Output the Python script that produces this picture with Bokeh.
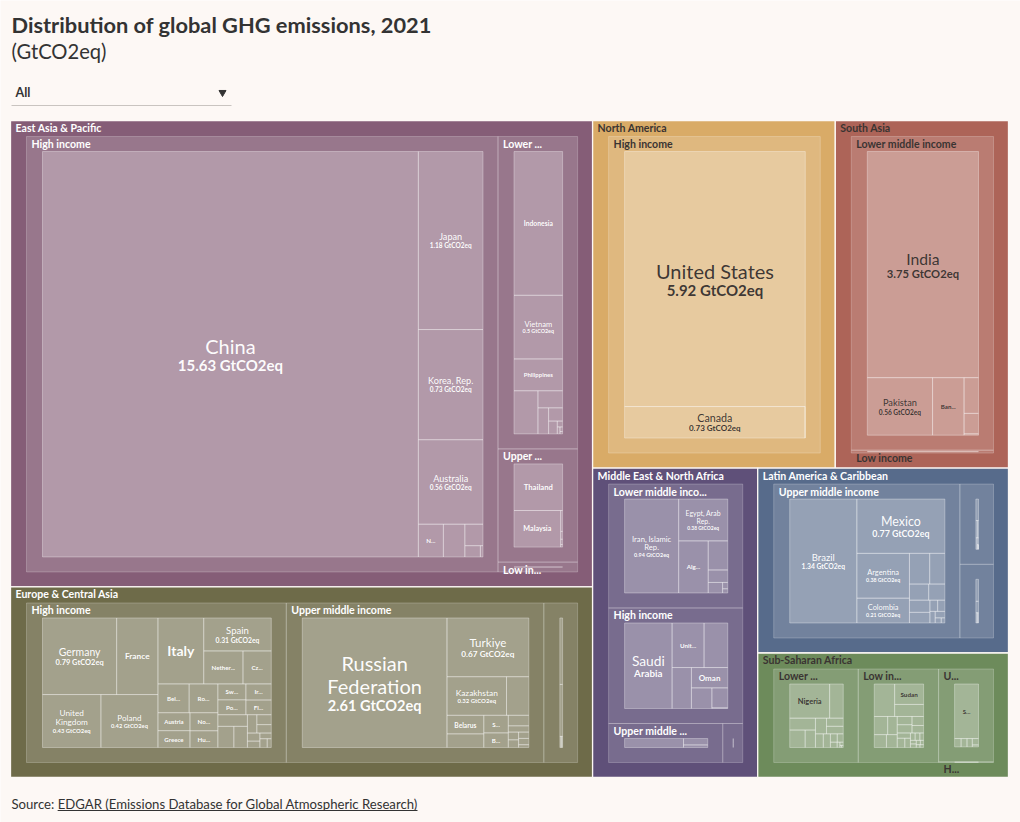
import os
import glob
from bokeh.plotting import figure
from bokeh.models import ColumnDataSource, Range1d
from bokeh.core.properties import value
from bokeh.embed import file_html
from bokeh.resources import INLINE

# ------------------------------------------------------------------ data
TITLE = "Distribution of global GHG emissions, 2021"
SUBTITLE = "(GtCO2eq)"
UNIT = "GtCO2eq"
FILTER_LABEL = "All"
SOURCE_PREFIX = "Source: "
SOURCE_LINK = "EDGAR (Emissions Database for Global Atmospheric Research)"

region_codes = ["EAP", "ECA", "NA", "SA", "MENA", "LAC", "SSA"]
region_names = ["East Asia & Pacific", "Europe & Central Asia", "North America", "South Asia",
                "Middle East & North Africa", "Latin America & Caribbean", "Sub-Saharan Africa"]
income_codes = ["H", "UM", "LM", "L"]
income_names = ["High income", "Upper middle income", "Lower middle income", "Low income"]

# East Asia & Pacific
eap_country = ["China", "Japan", "Korea, Rep.", "Australia", "New Zealand", "Singapore",
               "Hong Kong SAR, China", "Brunei Darussalam", "Macao SAR, China",
               "Indonesia", "Vietnam", "Philippines", "Myanmar", "Mongolia", "Cambodia", "Lao PDR",
               "Papua New Guinea", "Timor-Leste", "Solomon Islands", "Vanuatu", "Kiribati",
               "Thailand", "Malaysia", "Fiji", "Samoa", "Tonga", "Marshall Islands",
               "Korea, Dem. People's Rep."]
eap_income = ["H", "H", "H", "H", "H", "H",
              "H", "H", "H",
              "LM", "LM", "LM", "LM", "LM", "LM", "LM",
              "LM", "LM", "LM", "LM", "LM",
              "UM", "UM", "UM", "UM", "UM", "UM",
              "L"]
eap_ghg = [15.63, 1.18, 0.73, 0.56, 0.084, 0.072,
           0.04, 0.018, 0.003,
           1.13, 0.50, 0.25, 0.167, 0.068, 0.045, 0.03,
           0.018, 0.005, 0.003, 0.002, 0.001,
           0.45, 0.34, 0.008, 0.003, 0.002, 0.001,
           0.07]

# Europe & Central Asia
eca_country = ["Germany", "France", "United Kingdom", "Poland", "Italy", "Spain", "Netherlands",
               "Czechia", "Belgium", "Romania", "Austria", "Greece", "Norway", "Hungary", "Sweden",
               "Portugal", "Ireland", "Finland", "Denmark", "Switzerland", "Slovak Republic",
               "Croatia", "Lithuania", "Slovenia", "Estonia", "Latvia", "Luxembourg", "Cyprus", "Iceland",
               "Russian Federation", "Turkiye", "Kazakhstan", "Turkmenistan", "Belarus", "Azerbaijan",
               "Serbia", "Bulgaria", "Bosnia and Herzegovina", "Georgia", "Armenia", "North Macedonia",
               "Albania", "Kosovo", "Montenegro",
               "Ukraine", "Uzbekistan", "Kyrgyz Republic", "Tajikistan", "Moldova"]
eca_income = ["H", "H", "H", "H", "H", "H", "H",
              "H", "H", "H", "H", "H", "H", "H", "H",
              "H", "H", "H", "H", "H", "H",
              "H", "H", "H", "H", "H", "H", "H", "H",
              "UM", "UM", "UM", "UM", "UM", "UM",
              "UM", "UM", "UM", "UM", "UM", "UM",
              "UM", "UM", "UM",
              "LM", "LM", "LM", "LM", "LM"]
eca_ghg = [0.79, 0.44, 0.43, 0.42, 0.42, 0.31, 0.18,
           0.13, 0.125, 0.115, 0.08, 0.075, 0.07, 0.065, 0.062,
           0.058, 0.057, 0.052, 0.047, 0.048, 0.04,
           0.024, 0.02, 0.017, 0.014, 0.011, 0.009, 0.009, 0.005,
           2.61, 0.67, 0.32, 0.12, 0.095, 0.07,
           0.06, 0.05, 0.03, 0.018, 0.011, 0.011,
           0.009, 0.009, 0.004,
           0.275, 0.215, 0.018, 0.016, 0.012]

# North America
na_country = ["United States", "Canada", "Bermuda"]
na_income = ["H", "H", "H"]
na_ghg = [5.92, 0.73, 0.001]

# South Asia
sa_country = ["India", "Pakistan", "Bangladesh", "Nepal", "Sri Lanka", "Bhutan", "Afghanistan"]
sa_income = ["LM", "LM", "LM", "LM", "LM", "LM", "L"]
sa_ghg = [3.75, 0.56, 0.27, 0.077, 0.044, 0.003, 0.043]

# Middle East & North Africa
mena_country = ["Iran, Islamic Rep.", "Egypt, Arab Rep.", "Algeria", "Morocco", "Tunisia", "Lebanon",
                "West Bank and Gaza", "Djibouti",
                "Saudi Arabia", "United Arab Emirates", "Qatar", "Kuwait", "Oman", "Israel", "Bahrain", "Malta",
                "Iraq", "Libya", "Jordan",
                "Syrian Arab Republic", "Yemen, Rep."]
mena_income = ["LM", "LM", "LM", "LM", "LM", "LM",
               "LM", "LM",
               "H", "H", "H", "H", "H", "H", "H", "H",
               "UM", "UM", "UM",
               "L", "L"]
mena_ghg = [0.94, 0.38, 0.285, 0.105, 0.045, 0.028,
            0.006, 0.004,
            0.77, 0.27, 0.20, 0.15, 0.14, 0.08, 0.06, 0.002,
            0.34, 0.10, 0.04,
            0.05, 0.034]

# Latin America & Caribbean
lac_country = ["Brazil", "Mexico", "Argentina", "Colombia", "Peru", "Ecuador", "Paraguay", "Cuba",
               "Dominican Republic", "Guatemala", "Costa Rica", "El Salvador", "Jamaica", "Guyana",
               "Suriname", "Belize",
               "Chile", "Trinidad and Tobago", "Uruguay", "Panama", "Puerto Rico", "Bahamas, The",
               "Barbados", "Antigua and Barbuda",
               "Venezuela, RB", "Bolivia", "Honduras", "Nicaragua", "Haiti"]
lac_income = ["UM", "UM", "UM", "UM", "UM", "UM", "UM", "UM",
              "UM", "UM", "UM", "UM", "UM", "UM",
              "UM", "UM",
              "H", "H", "H", "H", "H", "H",
              "H", "H",
              "LM", "LM", "LM", "LM", "LM"]
lac_ghg = [1.34, 0.77, 0.38, 0.21, 0.10, 0.075, 0.05, 0.042,
           0.04, 0.035, 0.014, 0.013, 0.01, 0.01,
           0.005, 0.003,
           0.125, 0.055, 0.045, 0.03, 0.022, 0.008,
           0.005, 0.002,
           0.135, 0.07, 0.027, 0.022, 0.014]

# Sub-Saharan Africa
ssa_country = ["Nigeria", "Tanzania", "Kenya", "Angola", "Ghana", "Cameroon", "Cote d'Ivoire", "Zambia",
               "Zimbabwe", "Senegal", "Benin", "Mauritania", "Congo, Rep.", "Lesotho", "Eswatini",
               "Cabo Verde", "Comoros",
               "Ethiopia", "Sudan", "Congo, Dem. Rep.", "Uganda", "Mozambique", "Madagascar", "Mali",
               "Burkina Faso", "Niger", "Chad", "Somalia", "South Sudan", "Guinea", "Malawi", "Rwanda",
               "Central African Republic", "Togo", "Sierra Leone", "Eritrea", "Liberia", "Burundi",
               "Gambia, The", "Guinea-Bissau",
               "South Africa", "Gabon", "Botswana", "Namibia", "Equatorial Guinea", "Mauritius",
               "Seychelles"]
ssa_income = ["LM", "LM", "LM", "LM", "LM", "LM", "LM", "LM",
              "LM", "LM", "LM", "LM", "LM", "LM", "LM",
              "LM", "LM",
              "L", "L", "L", "L", "L", "L", "L",
              "L", "L", "L", "L", "L", "L", "L", "L",
              "L", "L", "L", "L", "L", "L",
              "L", "L",
              "UM", "UM", "UM", "UM", "UM", "UM",
              "H"]
ssa_ghg = [0.38, 0.13, 0.085, 0.075, 0.05, 0.048, 0.038, 0.035,
           0.03, 0.027, 0.016, 0.014, 0.01, 0.004, 0.003,
           0.001, 0.001,
           0.19, 0.17, 0.10, 0.07, 0.05, 0.045, 0.04,
           0.035, 0.035, 0.03, 0.025, 0.02, 0.02, 0.015, 0.01,
           0.01, 0.008, 0.006, 0.006, 0.005, 0.004,
           0.003, 0.003,
           0.53, 0.022, 0.02, 0.018, 0.016, 0.005,
           0.004]

region_tables = {
    "EAP": (eap_country, eap_income, eap_ghg),
    "ECA": (eca_country, eca_income, eca_ghg),
    "NA": (na_country, na_income, na_ghg),
    "SA": (sa_country, sa_income, sa_ghg),
    "MENA": (mena_country, mena_income, mena_ghg),
    "LAC": (lac_country, lac_income, lac_ghg),
    "SSA": (ssa_country, ssa_income, ssa_ghg),
}

# ------------------------------------------------------------------ style
BG = "#fdf8f5"
FONT = "Lato"
W, H = 1020, 822
OX, OY = 0, 0                       # figure sits at the page origin
TREEMAP_BOX = (10, 120, 1008, 777)  # page pixels
REGION_COLORS = {"EAP": "#855d77", "ECA": "#6e6b49", "NA": "#d9ab67", "SA": "#ad6458",
                 "MENA": "#5f5079", "LAC": "#576b8b", "SSA": "#6d8b5b"}
DARK_TEXT = {"NA", "SA", "SSA"}
DARK = "#3a3432"
LIGHT = "#ffffff"
PAD = {0: (0, 0, 0, 0), 1: (16, 16, 15, 15), 2: (16, 15, 15, 15)}  # left, top, right, bottom


# ------------------------------------------------------------------ text metrics
def _font_path(fname):
    for base in ("/usr/share/fonts", "/usr/local/share/fonts",
                 os.path.expanduser("~/.fonts"), os.path.expanduser("~/.local/share/fonts")):
        hits = glob.glob(os.path.join(base, "**", fname), recursive=True)
        if hits:
            return hits[0]
    return None


FR = FB = None
try:
    from PIL import ImageFont
    _r = _font_path("Lato-Regular.ttf")
    _b = _font_path("Lato-Bold.ttf")
    if _r and _b:
        FR = ImageFont.truetype(_r, 100)
        FB = ImageFont.truetype(_b, 100)
except Exception:
    FR = FB = None


def _approx(ch):
    if ch in "il.,:;'|!I":
        return 0.25
    if ch in "ftrj()-":
        return 0.33
    if ch == " ":
        return 0.26
    if ch in "mw":
        return 0.82
    if ch in "MW":
        return 0.9
    if ch.isupper():
        return 0.66
    if ch.isdigit():
        return 0.58
    return 0.52


def tw(text, fs, bold=False):
    f = FB if bold else FR
    if f is not None:
        return f.getlength(text) * fs / 100.0
    return sum(_approx(c) for c in text) * fs * (1.04 if bold else 1.0)


# ------------------------------------------------------------------ hierarchy
inc_name = dict(zip(income_codes, income_names))
reg_name = dict(zip(region_codes, region_names))

root = {"name": "World", "children": [], "code": None}
for rc in region_codes:
    names, incs, vals = region_tables[rc]
    assert len(names) == len(incs) == len(vals), rc
    groups = {}
    for n, ic, v in zip(names, incs, vals):
        groups.setdefault(ic, []).append({"name": n, "value": v, "children": None, "code": rc})
    gnodes = []
    for ic, leaves in groups.items():
        leaves = sorted(leaves, key=lambda d: -d["value"])
        gnodes.append({"name": inc_name[ic], "value": sum(d["value"] for d in leaves),
                       "children": leaves, "code": rc})
    gnodes = sorted(gnodes, key=lambda d: -d["value"])
    root["children"].append({"name": reg_name[rc], "value": sum(g["value"] for g in gnodes),
                             "children": gnodes, "code": rc})
root["children"] = sorted(root["children"], key=lambda d: -d["value"])
root["value"] = sum(r["value"] for r in root["children"])


def binary(nodes, x0, y0, x1, y1, key):
    sums = [0.0]
    for nd in nodes:
        sums.append(sums[-1] + nd["value"])

    def part(i, j, val, x0, y0, x1, y1):
        if i >= j - 1:
            nodes[i][key] = (x0, y0, x1, y1)
            return
        off = sums[i]
        target = val / 2 + off
        k, hi = i + 1, j - 1
        while k < hi:
            mid = (k + hi) >> 1
            if sums[mid] < target:
                k = mid + 1
            else:
                hi = mid
        if (target - sums[k - 1]) < (sums[k] - target) and i + 1 < k:
            k -= 1
        vl = sums[k] - off
        vr = val - vl
        if (x1 - x0) > (y1 - y0):
            xk = (x0 * vr + x1 * vl) / val if val else x1
            part(i, k, vl, x0, y0, xk, y1)
            part(k, j, vr, xk, y0, x1, y1)
        else:
            yk = (y0 * vr + y1 * vl) / val if val else y1
            part(i, k, vl, x0, y0, x1, yk)
            part(k, j, vr, x0, yk, x1, y1)

    part(0, len(nodes), sums[-1], x0, y0, x1, y1)


def raw_layout(node):
    # unpadded binary partition decides the structure of every level
    if node.get("children"):
        binary(node["children"], *node["raw"], key="raw")
        for c in node["children"]:
            raw_layout(c)


def place(node, depth):
    # map the unpadded structure into each node's padded inner box
    if not node.get("children"):
        return
    x0, y0, x1, y1 = node["box"]
    pl, pt, pr, pb = PAD[depth]
    ix0, iy0, ix1, iy1 = x0 + pl, y0 + pt, x1 - pr, y1 - pb
    if ix1 < ix0:
        ix0 = ix1 = (ix0 + ix1) / 2
    if iy1 < iy0:
        iy0 = iy1 = (iy0 + iy1) / 2
    R = node["raw"]
    rw, rh = R[2] - R[0], R[3] - R[1]
    for c in node["children"]:
        r = c["raw"]
        fx = lambda v: ix0 + ((v - R[0]) / rw * (ix1 - ix0) if rw else 0)
        fy = lambda v: iy0 + ((v - R[1]) / rh * (iy1 - iy0) if rh else 0)
        c["box"] = (fx(r[0]), fy(r[1]), fx(r[2]), fy(r[3]))
        place(c, depth + 1)


root["raw"] = TREEMAP_BOX
root["box"] = TREEMAP_BOX
raw_layout(root)
place(root, 0)

# ------------------------------------------------------------------ figure
p = figure(width=W, height=H, x_range=Range1d(0, W), y_range=Range1d(H, 0),
           output_backend="svg", toolbar_location=None, min_border=0,
           x_axis_location=None, y_axis_location=None,
           background_fill_color=BG, border_fill_color=BG, outline_line_color=None)
p.grid.visible = False


def quads(nodes):
    d = {"l": [], "r": [], "t": [], "b": [], "c": []}
    for nd in nodes:
        x0, y0, x1, y1 = nd["box"]
        d["l"].append(x0 - OX)
        d["r"].append(x1 - OX)
        d["t"].append(y0 - OY)
        d["b"].append(y1 - OY)
        d["c"].append(REGION_COLORS[nd["code"]])
    return ColumnDataSource(d)


regions = root["children"]
groups = [g for r in regions for g in r["children"]]
leaves = [c for g in groups for c in g["children"]]

p.quad(left="l", right="r", top="t", bottom="b", source=quads(regions),
       fill_color="c", line_color=BG, line_width=1.3)
p.quad(left="l", right="r", top="t", bottom="b", source=quads(groups),
       fill_color="white", fill_alpha=0.16, line_color="white", line_alpha=0.22, line_width=1)
p.quad(left="l", right="r", top="t", bottom="b", source=quads(leaves),
       fill_color="white", fill_alpha=0.25, line_color="white", line_alpha=0.4, line_width=0.8)

# ------------------------------------------------------------------ labels
left_lab = {"x": [], "y": [], "text": [], "fs": [], "st": [], "col": []}
ctr_lab = {"x": [], "y": [], "text": [], "fs": [], "st": [], "col": []}


def add(d, x, y, text, fs, bold, col):
    d["x"].append(x - OX)
    d["y"].append(y - OY)
    d["text"].append(text)
    d["fs"].append(f"{fs:.2f}px")
    d["st"].append("bold" if bold else "normal")
    d["col"].append(col)


LAB_FS = max(9.0, min(12.0, 86.0 / tw("East Asia & Pacific", 1, True)))


def truncate(name, fs, bold, avail):
    if tw(name, fs, bold) <= avail:
        return name
    for n in range(len(name) - 1, 0, -1):
        t = name[:n] + "..."
        if tw(t, fs, bold) <= avail:
            return t
    return None


for nd in regions + groups:
    x0, y0, x1, y1 = nd["box"]
    txt = truncate(nd["name"], LAB_FS, True, (x1 - x0) - 38)
    if txt:
        col = DARK if nd["code"] in DARK_TEXT else LIGHT
        add(left_lab, x0 + 5, y0 + 7.5, txt, LAB_FS, True, col)


def fmt_val(v):
    s = f"{v:.2f}"
    if s.endswith("0"):
        s = s[:-1]
    return f"{s} {UNIT}"


def wrap(text, fs, bold, maxw):
    words = text.split(" ")
    lines, cur = [], ""
    for wd in words:
        t = (cur + " " + wd) if cur else wd
        if not cur or tw(t, fs, bold) <= maxw:
            cur = t
        else:
            lines.append(cur)
            cur = wd
    lines.append(cur)
    return lines


TRUNC_FS = 6.2
MIN_VALUE_FS = 4.95


def leaf_lines(name, val, w, h):
    vs = fmt_val(val)
    vfs = min(15.0, 0.65 * w / tw(vs, 1, True))
    if vfs >= MIN_VALUE_FS:
        nfs = min(20.0, 1.4 * vfs)
        lines = wrap(name, nfs, False, 0.85 * w)
        mlw = max(tw(l, nfs, False) for l in lines)
        if mlw > 0.9 * w:
            nfs *= 0.9 * w / mlw
        total = len(lines) * nfs * 1.12 + vfs * 1.25
        if total > 0.7 * h:
            s = 0.7 * h / total
            nfs *= s
            vfs *= s
        if vfs >= MIN_VALUE_FS:
            return [(l, nfs, False) for l in lines] + [(vs, vfs, True)]
    # name only, bold
    fs = min(14.0, 0.6 * w / tw(name, 1, True), 0.5 * h)
    if fs >= 5.9:
        return [(name, fs, True)]
    words = name.split(" ")
    if len(words) > 1:
        best = None
        for i in range(1, len(words)):
            a, b = " ".join(words[:i]), " ".join(words[i:])
            m = max(tw(a, 1, True), tw(b, 1, True))
            if best is None or m < best[0]:
                best = (m, a, b)
        fs2 = min(14.0, 0.6 * w / best[0], 0.3 * h)
        if fs2 >= 6:
            f1 = min(1.4 * fs2, 0.85 * w / tw(best[1], 1, False))
            return [(best[1], f1, False), (best[2], fs2, True)]
    if h < 14:
        return []
    t = truncate(name, TRUNC_FS, True, w - 15)
    if t and t.endswith("..."):
        return [(t, TRUNC_FS, True)]
    return []


for nd in leaves:
    x0, y0, x1, y1 = nd["box"]
    w, h = x1 - x0, y1 - y0
    if w < 8 or h < 8:
        continue
    lines = leaf_lines(nd["name"], nd["value"], w, h)
    if not lines:
        continue
    col = DARK if nd["code"] in DARK_TEXT else LIGHT
    total = sum(fs * 1.12 for _, fs, _ in lines)
    y = (y0 + y1) / 2 - total / 2
    for text, fs, bold in lines:
        add(ctr_lab, (x0 + x1) / 2, y + fs * 0.56, text, fs, bold, col)
        y += fs * 1.12

p.text(x="x", y="y", text="text", source=ColumnDataSource(left_lab), text_font=value(FONT),
       text_font_size="fs", text_font_style="st", text_color="col",
       text_align="left", text_baseline="middle")
p.text(x="x", y="y", text="text", source=ColumnDataSource(ctr_lab), text_font=value(FONT),
       text_font_size="fs", text_font_style="st", text_color="col", text_alpha=0.97,
       text_align="center", text_baseline="middle")

# ------------------------------------------------------------------ header / footer
TXT = "#333333"
title_fs = 420.0 / tw(TITLE, 1, True)
sub_fs = 95.0 / tw(SUBTITLE, 1, False)
src_fs = 406.0 / tw(SOURCE_PREFIX + SOURCE_LINK, 1, False)

p.text(x=[11 - OX], y=[24 - OY], text=[TITLE], text_font=value(FONT),
       text_font_size=f"{title_fs:.2f}px", text_font_style="bold", text_color=TXT,
       text_baseline="middle")
p.text(x=[11 - OX], y=[50 - OY], text=[SUBTITLE], text_font=value(FONT),
       text_font_size=f"{sub_fs:.2f}px", text_color=TXT, text_baseline="middle")

# filter control
p.text(x=[15 - OX], y=[92 - OY], text=[FILTER_LABEL], text_font=value(FONT),
       text_font_size="12.5px", text_font_style="bold", text_color=TXT, text_baseline="middle")
p.segment(x0=[11 - OX], y0=[105 - OY], x1=[231 - OX], y1=[105 - OY],
          line_color="#c9c4c0", line_width=1)
p.scatter(x=[222 - OX], y=[92 - OY], marker="inverted_triangle", size=7,
          fill_color=TXT, line_color=TXT)

# source
p.text(x=[11 - OX], y=[803 - OY], text=[SOURCE_PREFIX], text_font=value(FONT),
       text_font_size=f"{src_fs:.2f}px", text_color=TXT, text_baseline="middle")
lx0 = 11 + tw(SOURCE_PREFIX, src_fs)
lx1 = 11 + tw(SOURCE_PREFIX + SOURCE_LINK, src_fs)
p.text(x=[lx0 - OX], y=[803 - OY], text=[SOURCE_LINK], text_font=value(FONT),
       text_font_size=f"{src_fs:.2f}px", text_color=TXT, text_baseline="middle")
p.segment(x0=[lx0 - OX], y0=[810 - OY], x1=[lx1 - OX], y1=[810 - OY],
          line_color=TXT, line_width=1)

html = file_html(p, INLINE, title="Distribution of global GHG emissions, 2021")
html = html.replace("<body>", f'<body style="background-color:{BG};">', 1)
open("out.html", "w").write(html)
